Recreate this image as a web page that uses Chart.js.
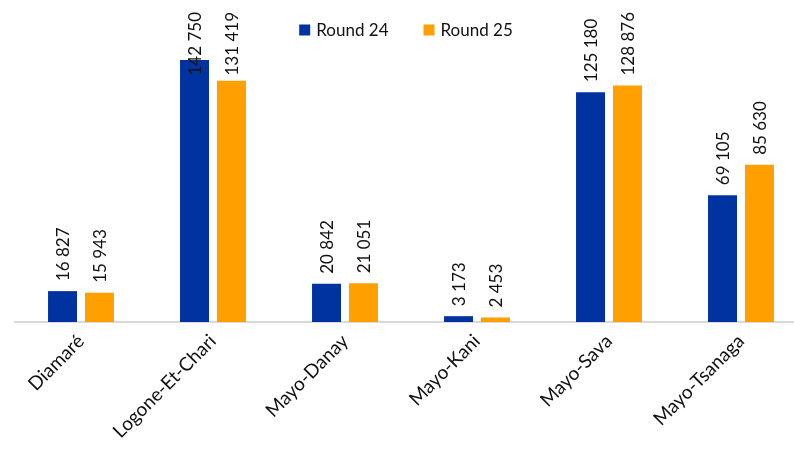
<html>
    <head>
        <script src="https://cdn.jsdelivr.net/npm/chart.js@4"></script>
        <style>
            body { margin: 0; overflow: hidden; background: #fff; }
            #wrap { position: relative; width: 812px; height: 453px; }
        </style>
        <script>
            var regions = ["Diamaré", "Logone-Et-Chari", "Mayo-Danay", "Mayo-Kani", "Mayo-Sava", "Mayo-Tsanaga"];
            var round24 = [16827, 142750, 20842, 3173, 125180, 69105];
            var round25 = [15943, 131419, 21051, 2453, 128876, 85630];
            var seriesNames = ["Round 24", "Round 25"];

            function fmt(v)
            {
                // thousands with a space, like the source
                return String(v).replace(/\B(?=(\d{3})+(?!\d))/g, " ");
            }

            // values written sideways above each bar
            var barLabels = {
                id: 'barLabels',
                afterDatasetsDraw: function(chart)
                {
                    var ctx = chart.ctx;
                    ctx.save();
                    ctx.font = '17px Lato';
                    ctx.fillStyle = '#111';
                    ctx.textBaseline = 'middle';
                    ctx.textAlign = 'left';
                    chart.data.datasets.forEach(function(ds, i) {
                        chart.getDatasetMeta(i).data.forEach(function(bar, j) {
                            var txt = fmt(ds.data[j]);
                            var w = ctx.measureText(txt).width;
                            var start = bar.y - 10;
                            if (start - w < 12) start = 12 + w;
                            ctx.save();
                            ctx.translate(bar.x + 1, start);
                            ctx.rotate(-Math.PI / 2);
                            ctx.fillText(txt, 0, 0);
                            ctx.restore();
                        });
                    });
                    ctx.restore();
                }
            };

            // legend floating over the plot, centred near the top
            var topLegend = {
                id: 'topLegend',
                afterDraw: function(chart)
                {
                    var ctx = chart.ctx;
                    var box = 11, gapText = 6, gapItem = 35, y = 30;
                    ctx.save();
                    ctx.font = '17px Lato';
                    ctx.textBaseline = 'middle';
                    ctx.textAlign = 'left';
                    var sets = chart.data.datasets;
                    var total = 0;
                    sets.forEach(function(ds, i) {
                        total += box + gapText + ctx.measureText(ds.label).width;
                        if (i > 0) total += gapItem;
                    });
                    var x = 406 - total / 2;
                    sets.forEach(function(ds) {
                        ctx.fillStyle = ds.backgroundColor;
                        ctx.fillRect(x, y - box / 2, box, box);
                        x += box + gapText;
                        ctx.fillStyle = '#111';
                        ctx.fillText(ds.label, x, y + 1);
                        x += ctx.measureText(ds.label).width + gapItem;
                    });
                    ctx.restore();
                }
            };

            function doLoading()
            {
                var ctx = document.getElementById('chartCanvas').getContext('2d');
                new Chart(ctx, {
                    type: 'bar',
                    data: {
                        labels: regions,
                        datasets: [
                            {
                                label: seriesNames[0],
                                backgroundColor: '#0033a0',
                                data: round24,
                                categoryPercentage: 0.56,
                                barPercentage: 0.784
                            },
                            {
                                label: seriesNames[1],
                                backgroundColor: '#ffa000',
                                data: round25,
                                categoryPercentage: 0.56,
                                barPercentage: 0.784
                            }
                        ]
                    },
                    options: {
                        responsive: false,
                        animation: false,
                        layout: { padding: { left: 15, right: 5, top: 14 } },
                        plugins: {
                            legend: { display: false },
                            tooltip: { enabled: false }
                        },
                        scales: {
                            x: {
                                grid: { display: false, drawTicks: false },
                                border: { color: '#d9d9d9', width: 2 },
                                ticks: {
                                    color: '#111',
                                    font: { family: 'Lato', size: 19 },
                                    minRotation: 45,
                                    maxRotation: 45,
                                    padding: 8
                                },
                                afterFit: function(s) { s.height = 131; }
                            },
                            y: {
                                display: false,
                                min: 0,
                                max: 167800
                            }
                        }
                    },
                    plugins: [barLabels, topLegend]
                });
            }
        </script>
    </head>
    <body onload="doLoading()">
        <div id="wrap"><canvas id="chartCanvas" width="812" height="453"></canvas></div>
    </body>
</html>
